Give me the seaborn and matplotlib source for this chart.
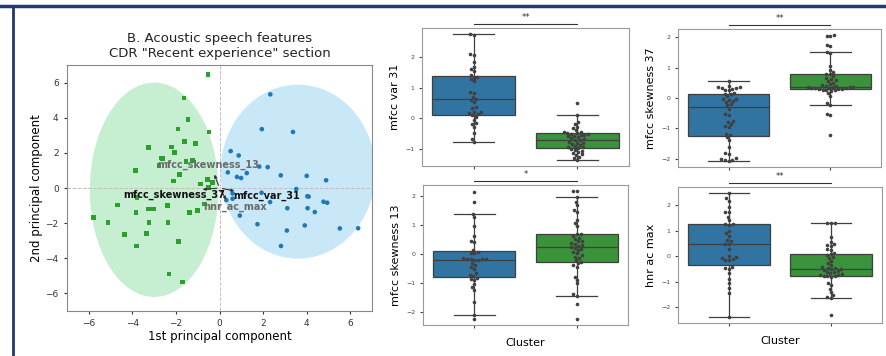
import numpy as np
import pandas as pd
import seaborn as sns
import matplotlib.pyplot as plt
from matplotlib.patches import Ellipse
from matplotlib.lines import Line2D
from matplotlib.ticker import MultipleLocator
import matplotlib.transforms as mtransforms

# ---- PCA scatter data ----
green_pc1 = [-0.53, -1.63, -1.44, -1.90, -0.48, -1.60, -1.11, -3.27, -2.19, -2.07, -2.67, -2.62,
             -1.54, -1.25, -2.78, -1.85, -3.86, -2.11, -0.54, -0.31, -0.86, -0.51, -3.78, -4.68,
             -0.69, -3.84, -3.27, -3.04, -2.39, -1.00, -1.39, -5.78, -5.12, -3.24, -2.36, -4.37,
             -3.36, -3.82, -1.88, -2.31, -1.70]
green_pc2 = [6.46, 5.12, 3.89, 3.36, 3.18, 2.65, 2.53, 2.30, 2.34, 2.01, 1.70, 1.68,
             1.50, 1.56, 1.28, 0.78, 0.99, 0.40, 0.50, 0.30, 0.23, 0.02, -0.55, -0.97,
             -0.91, -1.41, -1.20, -1.20, -0.99, -1.28, -1.41, -1.68, -1.97, -1.95, -1.97, -2.65,
             -2.59, -3.31, -3.06, -4.89, -5.35]
blue_pc1 = [2.33, 1.94, 3.37, 0.51, 0.88, 1.82, 2.21, 0.38, 1.25, 0.80, 0.99, 2.81, 4.00, 4.89,
            3.52, 0.60, 0.60, 4.03, 4.09, 1.93, 2.32, 3.11, 4.04, 4.37, 4.77, 4.94, 0.93, 1.74,
            3.91, 3.09, 2.82, 5.52, 6.36, 0.31]
blue_pc2 = [5.33, 3.35, 3.19, 2.10, 1.85, 1.22, 1.19, 0.89, 0.85, 0.63, 0.57, 0.72, 0.69, 0.44,
            -0.06, -0.31, -0.61, -0.47, -0.49, -0.27, -0.80, -1.15, -1.15, -1.37, -0.78, -0.84,
            -1.57, -2.06, -2.13, -2.42, -3.30, -2.30, -2.29, -0.69]

# cluster ellipses: center x, center y, width, height
green_ellipse = [-3.0, -0.1, 5.9, 12.2]
blue_ellipse = [3.6, 0.93, 7.1, 9.9]

# loading vectors
feat_names = ["mfcc_skewness_13", "mfcc_skewness_37", "mfcc_var_31", "hnr_ac_max"]
load_pc1 = [-0.28, -0.90, 0.80, 0.37]
load_pc2 = [0.91, -0.10, -0.19, -0.80]

# ---- box plot data per feature: (cluster 0 / blue, cluster 1 / green) ----
mfcc_var_31_c0 = [2.74, 2.72, 2.09, 2.06, 1.84, 1.68, 1.62, 1.55, 1.40, 1.36, 1.33, 1.27, 1.21,
                  0.87, 0.83, 0.70, 0.63, 0.60, 0.54, 0.36, 0.33, 0.22, 0.20, 0.18, 0.15, 0.11,
                  0.05, -0.05, -0.14, -0.18, -0.29, -0.49, -0.68, -0.78]
mfcc_var_31_c1 = [0.49, 0.12, -0.11, -0.18, -0.27, -0.33, -0.38, -0.43, -0.45, -0.47, -0.49, -0.51,
                  -0.52, -0.53, -0.55, -0.57, -0.59, -0.62, -0.65, -0.67, -0.70, -0.72, -0.76,
                  -0.79, -0.82, -0.85, -0.87, -0.90, -0.92, -0.94, -0.97, -1.00, -1.03, -1.05,
                  -1.09, -1.14, -1.17, -1.19, -1.25, -1.30, -1.35]
mfcc_skew_37_c0 = [0.55, 0.39, 0.37, 0.36, 0.34, 0.33, 0.31, 0.28, 0.26, 0.16, 0.14, 0.12, 0.05,
                   -0.02, -0.04, -0.06, -0.10, -0.13, -0.19, -0.24, -0.35, -0.52, -0.57, -0.76,
                   -0.79, -0.87, -0.94, -0.96, -1.18, -1.23, -1.30, -1.40, -1.62, -1.82, -1.86,
                   -1.97, -2.02, -2.04, -2.06, -2.07]
mfcc_skew_37_c1 = [2.07, 2.06, 2.05, 1.74, 1.71, 1.51, 1.47, 1.05, 0.92, 0.85, 0.80, 0.78, 0.72,
                   0.66, 0.62, 0.58, 0.55, 0.50, 0.45, 0.42, 0.40, 0.38, 0.37, 0.36, 0.36, 0.35,
                   0.34, 0.33, 0.33, 0.32, 0.31, 0.30, 0.29, 0.28, 0.27, 0.25, 0.22, 0.15, 0.05,
                   -0.15, -0.22, -0.52, -0.55, -1.23]
mfcc_skew_13_c0 = [2.14, 1.78, 1.38, 1.27, 0.95, 0.60, 0.43, 0.40, 0.14, 0.08, 0.05, 0.02, -0.15,
                   -0.17, -0.18, -0.18, -0.19, -0.20, -0.21, -0.32, -0.38, -0.45, -0.50, -0.67,
                   -0.72, -0.76, -0.81, -0.85, -0.90, -1.04, -1.13, -1.22, -1.65, -2.09, -2.22]
mfcc_skew_13_c1 = [2.15, 2.15, 1.96, 1.79, 1.67, 1.50, 1.43, 1.18, 1.06, 0.95, 0.69, 0.68, 0.62,
                   0.55, 0.51, 0.45, 0.43, 0.38, 0.35, 0.31, 0.28, 0.23, 0.22, 0.18, 0.14, 0.08,
                   0.02, -0.05, -0.09, -0.15, -0.21, -0.29, -0.32, -0.38, -0.44, -0.78, -0.88,
                   -1.01, -1.38, -1.43, -1.71, -2.22]
hnr_ac_max_c0 = [2.48, 2.28, 2.19, 1.93, 1.76, 1.74, 1.56, 1.43, 1.27, 1.26, 1.23, 1.01, 0.90,
                 0.80, 0.64, 0.60, 0.49, 0.47, 0.28, 0.01, -0.04, -0.08, -0.12, -0.14, -0.16,
                 -0.41, -0.47, -0.50, -0.67, -0.87, -1.04, -1.22, -1.43, -2.37]
hnr_ac_max_c1 = [1.32, 1.31, 1.30, 0.77, 0.58, 0.49, 0.45, 0.40, 0.28, 0.25, 0.12, 0.08, 0.05,
                 -0.04, -0.07, -0.17, -0.25, -0.34, -0.41, -0.45, -0.47, -0.50, -0.51, -0.54,
                 -0.58, -0.60, -0.62, -0.66, -0.69, -0.71, -0.73, -0.75, -0.77, -0.78, -0.80,
                 -1.06, -1.13, -1.26, -1.39, -1.52, -1.61, -1.65, -2.28]

box_features = ["mfcc var 31", "mfcc skewness 37", "mfcc skewness 13", "hnr ac max"]
box_values = [(mfcc_var_31_c0, mfcc_var_31_c1), (mfcc_skew_37_c0, mfcc_skew_37_c1),
              (mfcc_skew_13_c0, mfcc_skew_13_c1), (hnr_ac_max_c0, hnr_ac_max_c1)]
significance = ["**", "**", "*", "**"]

BLUE = "#1f77b4"
GREEN = "#2ca02c"
palette = {"0": BLUE, "1": GREEN}

fig = plt.figure(figsize=(8.87, 3.56), dpi=100)

# ---------------- left: PCA biplot ----------------
ax = fig.add_axes([0.0755, 0.1264, 0.344, 0.691])
pca = pd.DataFrame({
    "PC1": green_pc1 + blue_pc1,
    "PC2": green_pc2 + blue_pc2,
    "cluster": ["1"] * len(green_pc1) + ["0"] * len(blue_pc1),
})
for (cx, cy, w, h), col in [(green_ellipse, "#c6eed0"), (blue_ellipse, "#c8e8f8")]:
    ax.add_patch(Ellipse((cx, cy), w, h, facecolor=col, edgecolor="none", zorder=0))
ax.axhline(0, color="#c0c0c0", ls="--", lw=0.7, zorder=1)
ax.axvline(0, color="#c0c0c0", ls="--", lw=0.7, zorder=1)
sns.scatterplot(data=pca, x="PC1", y="PC2", hue="cluster", style="cluster",
                markers={"0": "o", "1": "s"}, palette=palette, s=11, linewidth=0,
                legend=False, ax=ax, zorder=3)
for name, vx, vy in zip(feat_names, load_pc1, load_pc2):
    ax.annotate("", xy=(vx, vy), xytext=(0, 0), zorder=4,
                arrowprops=dict(arrowstyle="-|>", color="#333333", lw=0.8, mutation_scale=4))
label_pos = {"mfcc_skewness_13": (-0.54, 1.30, "#6a6a6a"),
             "mfcc_skewness_37": (-2.08, -0.40, "#111111"),
             "mfcc_var_31": (2.16, -0.46, "#111111"),
             "hnr_ac_max": (0.70, -1.07, "#6a6a6a")}
for name in feat_names:
    tx, ty, tc = label_pos[name]
    ax.text(tx, ty, name, ha="center", va="center", fontsize=7, fontweight="bold",
            color=tc, zorder=5)
ax.set_xlim(-7, 7)
ax.set_ylim(-7, 7)
ax.set_xticks(range(-6, 7, 2))
ax.set_yticks(range(-6, 7, 2))
ax.tick_params(labelsize=6.5, length=2.5, colors="#333333")
ax.set_xlabel("1st principal component", fontsize=8.5, labelpad=1)
ax.set_ylabel("2nd principal component", fontsize=8.5, labelpad=2)
ax.set_title('B. Acoustic speech features\nCDR "Recent experience" section',
             fontsize=9.5, pad=6, color="#222222")
for sp in ax.spines.values():
    sp.set_color("#888888")
    sp.set_linewidth(0.8)

# ---------------- right: 2x2 box plots ----------------
rects = [[0.4758, 0.5337, 0.2334, 0.3876], [0.7644, 0.5309, 0.2289, 0.3876],
         [0.4769, 0.0871, 0.2311, 0.3933], [0.7644, 0.0927, 0.2300, 0.3820]]
for i, (rect, feat, (c0, c1), sig) in enumerate(zip(rects, box_features, box_values, significance)):
    bx = fig.add_axes(rect)
    df = pd.DataFrame({"Cluster": ["0"] * len(c0) + ["1"] * len(c1), "value": c0 + c1})
    sns.boxplot(data=df, x="Cluster", y="value", hue="Cluster", palette=palette, ax=bx,
                showfliers=False, linewidth=0.9, linecolor="#3f3f3f", legend=False)
    sns.swarmplot(data=df, x="Cluster", y="value", color=".25", size=2.6, ax=bx)
    bx.set_xticks([0, 1])
    bx.set_xticklabels(["", ""])
    bx.yaxis.set_major_locator(MultipleLocator(1))
    bx.set_ylabel(feat, fontsize=8)
    bx.set_xlabel("Cluster" if i >= 2 else "", fontsize=8)
    bx.tick_params(labelsize=4.5, length=2, colors="#444444")
    for sp in bx.spines.values():
        sp.set_color("#999999")
        sp.set_linewidth(0.8)
    trans = mtransforms.blended_transform_factory(bx.transData, bx.transAxes)
    bx.add_line(Line2D([0, 1], [1.03, 1.03], transform=trans, color="#333333", lw=0.8,
                       clip_on=False))
    bx.text(0.5, 1.045, sig, transform=trans, ha="center", va="bottom", fontsize=6,
            color="#333333")

# navy frame lines (top and left)
fig.add_artist(Line2D([0, 1], [1 - 5.5 / 356, 1 - 5.5 / 356], transform=fig.transFigure,
                      color="#23396b", lw=2.5))
fig.add_artist(Line2D([13 / 887, 13 / 887], [0, 1 - 5.5 / 356], transform=fig.transFigure,
                      color="#23396b", lw=2.0))

fig.savefig("out.png", dpi=100)
